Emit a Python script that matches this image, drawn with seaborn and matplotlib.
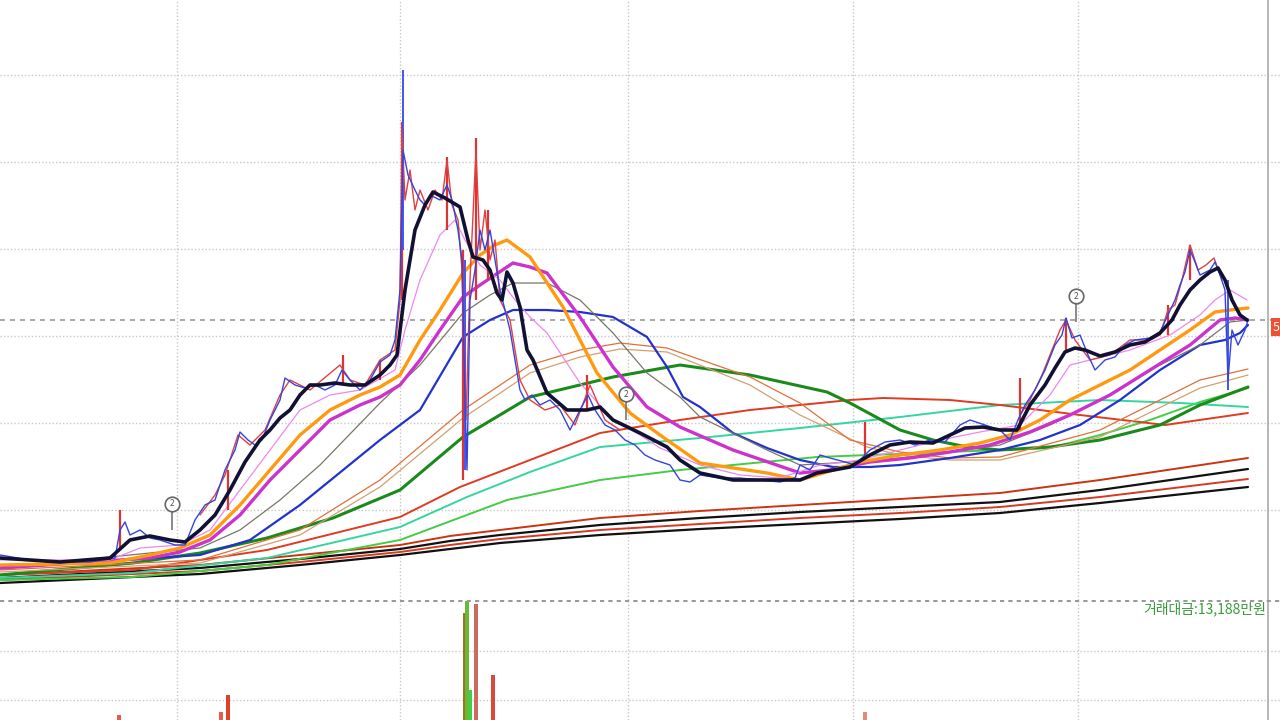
import matplotlib.pyplot as plt
import numpy as np
import seaborn as sns

# bar index along x, price on y
price = [(0, 5450), (30, 5400), (60, 5380), (90, 5380), (115, 5420), (120, 5700), (125, 5780), (130, 5650),
         (140, 5700), (150, 5620), (160, 5600), (175, 5550), (185, 5550), (195, 5800), (205, 5950), (215, 6000),
         (225, 6300), (235, 6500), (240, 6680), (248, 6600), (255, 6550), (262, 6600), (270, 6800), (280, 7000),
         (285, 7220), (295, 7150), (305, 7120), (315, 7150), (325, 7100), (335, 7150), (342, 7300), (350, 7200),
         (360, 7100), (370, 7200), (380, 7380), (390, 7450), (395, 7600), (400, 8100), (403, 9500), (408, 9250),
         (415, 9100), (420, 9000), (425, 8950), (430, 9050), (440, 9000), (447, 9150), (452, 9000), (458, 8700),
         (462, 8400), (465, 7000), (467, 6300), (470, 8000), (475, 8300), (480, 8700), (485, 8500), (490, 8700),
         (495, 8400), (500, 8100), (505, 7900), (510, 7700), (515, 7400), (520, 7100), (525, 7000), (532, 7050),
         (540, 6950), (550, 7000), (560, 6900), (570, 6700), (580, 6900), (588, 7050), (595, 6900), (605, 6750),
         (615, 6700), (625, 6600), (635, 6550), (645, 6450), (655, 6400), (670, 6350), (680, 6200), (690, 6180),
         (700, 6250), (720, 6220), (740, 6220), (760, 6200), (780, 6180), (795, 6220), (800, 6350), (810, 6300),
         (820, 6450), (830, 6420), (845, 6380), (855, 6350), (870, 6500), (885, 6580), (900, 6600), (915, 6550),
         (930, 6600), (945, 6580), (960, 6750), (970, 6800), (985, 6750), (1000, 6700), (1010, 6600), (1018, 6800),
         (1025, 6950), (1035, 7100), (1045, 7300), (1055, 7550), (1062, 7650), (1066, 7820), (1072, 7620),
         (1080, 7650), (1088, 7450), (1095, 7300), (1105, 7400), (1115, 7430), (1125, 7550), (1135, 7600),
         (1150, 7620), (1160, 7680), (1168, 7850), (1175, 8000), (1180, 8150), (1185, 8280), (1190, 8500),
         (1195, 8380), (1200, 8250), (1210, 8300), (1215, 8380), (1220, 8250), (1225, 8100), (1228, 7200),
         (1232, 7700), (1238, 7550), (1245, 7700), (1248, 7800)]

# red candle bodies (up bars) over the busiest stretches
price_up_a = [(200, 5850), (215, 6050), (225, 6250), (238, 6650), (250, 6550), (265, 6700), (280, 7050),
              (290, 7200), (310, 7100), (340, 7350), (350, 7200), (365, 7150), (380, 7400), (395, 7500),
              (400, 8000), (402, 9700), (405, 9000), (410, 9300), (415, 8900), (420, 9100), (428, 8900),
              (435, 9100), (442, 9000), (447, 9400), (452, 8950), (458, 8800), (462, 8300), (466, 6800),
              (470, 8200), (476, 9500), (480, 8500), (485, 8900), (490, 8400), (495, 8600), (500, 8000),
              (510, 7800), (520, 7200), (530, 7000), (545, 6900), (560, 6950), (575, 6750), (590, 7150),
              (605, 6800), (620, 6700)]
price_up_b = [(1020, 6850), (1030, 7000), (1042, 7250), (1052, 7500), (1060, 7700), (1066, 7800), (1075, 7600),
              (1090, 7400), (1110, 7450), (1130, 7600), (1150, 7600), (1160, 7650), (1168, 7900), (1175, 7950),
              (1182, 8200), (1190, 8550), (1198, 8300), (1206, 8350), (1214, 8420), (1222, 8200)]

red_wick_x = [120, 228, 343, 380, 402, 447, 463, 476, 488, 587, 865, 1020, 1066, 1168, 1190]
red_wick_lo = [5500, 5900, 7150, 7200, 8000, 8700, 6200, 8000, 8200, 6900, 6450, 6700, 7500, 7650, 8200]
red_wick_hi = [5900, 6300, 7450, 7400, 9780, 9430, 8500, 9620, 8900, 7250, 6780, 7220, 7820, 7950, 8550]
blue_wick_x = [403, 465, 1228]
blue_wick_lo = [8500, 6300, 7100]
blue_wick_hi = [10300, 8400, 8200]

ma5 = [(0, 5420), (60, 5380), (110, 5420), (130, 5600), (150, 5640), (170, 5600), (185, 5580), (200, 5700),
       (215, 5850), (230, 6100), (245, 6380), (260, 6600), (270, 6700), (280, 6820), (290, 6900), (300, 7050),
       (310, 7150), (320, 7150), (335, 7170), (350, 7150), (365, 7150), (380, 7250), (390, 7350), (397, 7450),
       (405, 8100), (415, 8700), (425, 8950), (433, 9080), (445, 9020), (460, 8930), (468, 8600), (473, 8430),
       (483, 8400), (490, 8300), (497, 8070), (502, 8000), (507, 8280), (513, 8170), (520, 7930), (527, 7500),
       (533, 7400), (547, 7070), (567, 6900), (587, 6900), (600, 6930), (613, 6800), (640, 6670), (667, 6530),
       (680, 6400), (700, 6270), (733, 6200), (770, 6200), (800, 6200), (817, 6270), (850, 6330), (870, 6450),
       (890, 6550), (910, 6580), (933, 6570), (950, 6650), (965, 6720), (983, 6730), (1000, 6700), (1017, 6700),
       (1030, 6950), (1045, 7150), (1055, 7320), (1065, 7480), (1075, 7520), (1085, 7500), (1100, 7440),
       (1115, 7480), (1130, 7550), (1145, 7580), (1160, 7670), (1172, 7800), (1180, 7950), (1190, 8100),
       (1200, 8200), (1210, 8280), (1218, 8320), (1225, 8200), (1232, 8000), (1240, 7850), (1247, 7800)]

ma10 = [(0, 5400), (110, 5400), (140, 5520), (180, 5550), (210, 5700), (240, 6100), (270, 6500), (300, 6900),
        (330, 7050), (360, 7100), (395, 7300), (405, 7700), (420, 8200), (440, 8650), (455, 8800), (465, 8600),
        (480, 8350), (500, 8200), (515, 8000), (530, 7830), (547, 7670), (580, 7170), (613, 6800), (640, 6650),
        (660, 6520), (700, 6350), (740, 6250), (780, 6220), (820, 6350), (860, 6400), (900, 6500), (940, 6600),
        (980, 6680), (1020, 6750), (1050, 7050), (1070, 7350), (1090, 7400), (1130, 7500), (1170, 7650),
        (1200, 7850), (1215, 8000), (1230, 8100), (1247, 8000)]

ma20 = [(0, 5350), (110, 5370), (150, 5450), (180, 5520), (210, 5650), (240, 5950), (270, 6300), (300, 6650),
        (330, 6900), (360, 7050), (380, 7130), (400, 7250), (420, 7600), (440, 7900), (463, 8270), (480, 8450),
        (495, 8550), (507, 8600), (530, 8430), (563, 7930), (597, 7270), (630, 6870), (660, 6650), (700, 6370),
        (767, 6270), (800, 6200), (860, 6380), (900, 6450), (940, 6500), (980, 6570), (1010, 6650), (1040, 6800),
        (1070, 7000), (1100, 7150), (1130, 7300), (1160, 7500), (1190, 7700), (1215, 7880), (1230, 7900),
        (1248, 7920)]

ma30 = [(0, 5320), (150, 5420), (180, 5480), (210, 5600), (240, 5850), (270, 6200), (300, 6500), (330, 6800),
        (360, 6950), (380, 7030), (400, 7150), (420, 7400), (440, 7700), (463, 8030), (480, 8150), (495, 8250),
        (513, 8370), (530, 8330), (547, 8270), (580, 7830), (613, 7330), (647, 6930), (680, 6730), (733, 6500),
        (800, 6270), (830, 6300), (870, 6380), (910, 6420), (950, 6480), (990, 6550), (1030, 6680), (1070, 6850),
        (1110, 7050), (1150, 7300), (1190, 7550), (1220, 7800), (1235, 7820), (1248, 7800)]

ma40 = [(0, 5320), (200, 5520), (240, 5700), (280, 6000), (320, 6350), (380, 6970), (420, 7350), (463, 7870),
        (490, 8050), (513, 8170), (547, 8170), (580, 8000), (613, 7670), (647, 7270), (680, 7030), (700, 6830),
        (767, 6500), (800, 6350), (850, 6380), (900, 6420), (950, 6480), (1000, 6550), (1050, 6750), (1100, 7000),
        (1150, 7300), (1200, 7550), (1230, 7780), (1248, 7800)]

ma60 = [(0, 5320), (200, 5450), (250, 5600), (300, 5950), (380, 6600), (420, 6900), (463, 7630), (490, 7800),
        (513, 7900), (547, 7900), (580, 7880), (613, 7830), (647, 7630), (667, 7330), (683, 7030), (700, 6930),
        (733, 6670), (767, 6520), (800, 6400), (833, 6330), (870, 6330), (900, 6350), (950, 6420), (1000, 6500),
        (1040, 6600), (1080, 6750), (1120, 7000), (1160, 7300), (1200, 7550), (1225, 7600), (1240, 7670),
        (1248, 7750)]

ma90 = [(0, 5300), (200, 5400), (300, 5700), (380, 6200), (463, 6900), (530, 7350), (580, 7500), (620, 7570),
        (667, 7520), (750, 7230), (800, 6970), (850, 6600), (900, 6480), (950, 6420), (1000, 6430), (1100, 6700),
        (1200, 7200), (1248, 7310)]

ma100 = [(0, 5280), (200, 5370), (300, 5650), (380, 6130), (463, 6820), (530, 7270), (580, 7430), (620, 7510),
         (667, 7480), (750, 7150), (800, 6850), (867, 6530), (900, 6450), (950, 6400), (1000, 6400), (1100, 6630),
         (1200, 7120), (1248, 7250)]

ma120 = [(0, 5250), (133, 5370), (200, 5470), (267, 5620), (333, 5820), (400, 6100), (463, 6630), (530, 7030),
         (613, 7230), (680, 7350), (750, 7250), (827, 7080), (850, 6970), (900, 6700), (933, 6600), (967, 6530),
         (1000, 6500), (1050, 6530), (1100, 6600), (1160, 6750), (1200, 6950), (1248, 7130)]

ma160 = [(0, 5250), (133, 5300), (267, 5500), (400, 5830), (460, 6130), (530, 6400), (600, 6670), (680, 6800),
         (750, 6900), (850, 7000), (883, 7020), (950, 7000), (1000, 6950), (1080, 6850), (1165, 6750), (1248, 6870)]

ma200 = [(0, 5220), (133, 5270), (267, 5420), (400, 5730), (467, 6030), (530, 6280), (600, 6530), (700, 6620),
         (800, 6720), (900, 6830), (1000, 6950), (1100, 7000), (1180, 6970), (1248, 6930)]

ma240 = [(0, 5200), (133, 5230), (267, 5350), (400, 5600), (507, 6000), (600, 6200), (680, 6300), (817, 6430),
         (1000, 6500), (1050, 6520), (1100, 6650), (1150, 6800), (1200, 6980), (1248, 7120)]

ma300 = [(0, 5250), (200, 5350), (300, 5450), (400, 5550), (450, 5640), (500, 5700), (600, 5820), (700, 5890),
         (800, 5950), (900, 6010), (1000, 6070), (1100, 6200), (1248, 6420)]
ma360 = [(0, 5220), (200, 5320), (300, 5410), (400, 5510), (450, 5590), (500, 5650), (600, 5750), (700, 5820),
         (800, 5880), (900, 5930), (1000, 5980), (1100, 6100), (1248, 6310)]
ma420 = [(0, 5200), (200, 5290), (300, 5380), (400, 5480), (450, 5550), (500, 5610), (600, 5700), (700, 5760),
         (800, 5820), (900, 5870), (1000, 5930), (1100, 6030), (1248, 6210)]
ma480 = [(0, 5170), (200, 5260), (300, 5350), (400, 5450), (450, 5510), (500, 5570), (600, 5650), (700, 5710),
         (800, 5760), (900, 5810), (1000, 5870), (1100, 5970), (1248, 6130)]

sign_x = [172, 626, 1076]
sign_y = [5900, 7000, 7980]
sign_stem = [5700, 6800, 7780]

vol_x = [119, 221, 228, 465, 467, 470, 476, 493, 865]
vol = [5, 8, 25, 108, 120, 30, 117, 45, 8]
vol_colors = ['#e85a4a', '#e85a4a', '#e0402a', '#a8701c', '#66bb33', '#44cc44', '#cc6a60', '#d94a3a', '#e08a7a']

last_price = 7800
amount_label = '거래대금:13,188만원'

sns.set_style('white')
plt.rcParams['font.family'] = ['Noto Sans CJK KR', 'DejaVu Sans']

fig = plt.figure(figsize=(12.8, 7.2), dpi=100)
ax = fig.add_axes([0, 120 / 720, 1, 600 / 720])
axv = fig.add_axes([0, 0, 1, 120 / 720])

grid_x = [177, 400, 628, 853, 1078]
for a in (ax, axv):
    a.set_xlim(0, 1280)
    a.set_xticks(grid_x)
    a.grid(True, color='#c8c8c8', linestyle=(0, (1, 1.5)), linewidth=1)
    a.tick_params(length=0, labelbottom=False, labelleft=False)
    for s in a.spines.values():
        s.set_visible(False)
    a.axvline(1268, color='#aaaaaa', lw=1.2)

ax.set_ylim(5000, 11000)
ax.set_yticks([5900, 6770, 7640, 8510, 9380, 10250])
axv.set_ylim(0, 121)
axv.set_yticks([20, 70])


def line(pts, color, lw, z=2):
    xy = np.array(pts)
    sns.lineplot(x=xy[:, 0], y=xy[:, 1], ax=ax, color=color, lw=lw, estimator=None, sort=False, zorder=z)


# long averages
line(ma480, '#111111', 1.6)
line(ma420, '#d63a22', 1.4)
line(ma360, '#111111', 1.6)
line(ma300, '#cc3311', 1.4)
line(ma240, '#44cc44', 1.4)
line(ma200, '#33d6a0', 1.4)
line(ma160, '#e03a22', 1.4)
line(ma120, '#1a8a1a', 2.2)
line(ma100, '#d2a070', 0.9)
line(ma90, '#e0703a', 0.9)
line(ma60, '#2233cc', 1.6)
line(ma40, '#777766', 0.9)
line(ma30, '#cc33cc', 2.4)
line(ma20, '#ff9a10', 2.4)
line(ma10, '#ee88ee', 0.9)

# price
ax.vlines(red_wick_x, red_wick_lo, red_wick_hi, color='#dd3333', lw=1.6, zorder=3)
ax.vlines(blue_wick_x, blue_wick_lo, blue_wick_hi, color='#4455ee', lw=1.4, zorder=3)
line(price_up_a, '#e04040', 1.0, z=3)
line(price_up_b, '#e04040', 1.0, z=3)
line(price, '#3344dd', 1.0, z=3)
line(ma5, '#111133', 2.6, z=4)

ax.axhline(last_price, color='#999999', ls=(0, (3, 3)), lw=1.2, zorder=1)
ax.text(1273, last_price - 70, '5', color='white', fontsize=9, va='center', ha='left',
        bbox=dict(boxstyle='square,pad=0.2', fc='#f05030', ec='none'))

# signal markers
ax.vlines(sign_x, sign_stem, sign_y, color='#777777', lw=1.2, zorder=5)
ax.scatter(sign_x, [y + 60 for y in sign_y], s=110, facecolor='white', edgecolor='#666666', lw=1.2, zorder=6)
for sx, sy in zip(sign_x, sign_y):
    ax.text(sx, sy + 60, '2', fontsize=6, ha='center', va='center', color='#555555', zorder=7)

# volume
axv.bar(vol_x, vol, width=3.5, color=vol_colors, linewidth=0)
axv.axhline(120, color='#999999', ls=(0, (2, 2)), lw=1.5)
axv.text(1266, 112, amount_label, color='#3a9a3a', fontsize=10, ha='right', va='center')

fig.savefig('out.png', dpi=100)
